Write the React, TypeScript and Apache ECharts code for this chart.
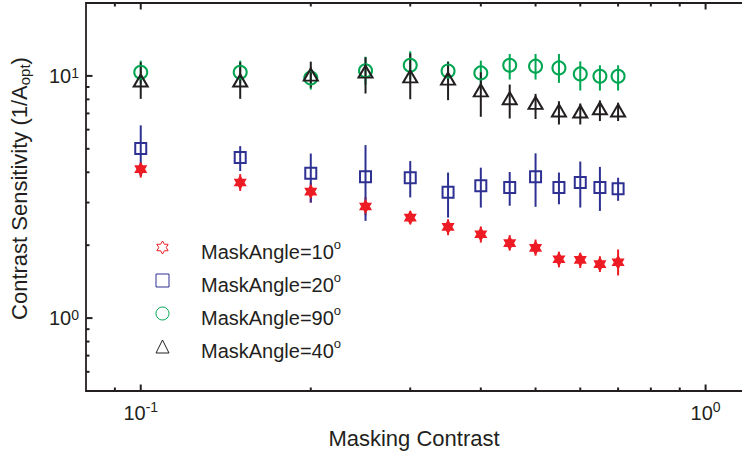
import React, { useEffect, useRef } from 'react';
import * as echarts from 'echarts';

// ---------- data ----------
const maskingContrast = [0.1, 0.15, 0.2, 0.25, 0.3, 0.35, 0.4, 0.45, 0.5, 0.55, 0.6, 0.65, 0.7];

const angle10 = [4.12, 3.63, 3.33, 2.89, 2.6, 2.38, 2.22, 2.04, 1.95, 1.75, 1.74, 1.67, 1.7];
const angle10Low = [3.8, 3.35, 3.0, 2.66, 2.44, 2.2, 2.05, 1.9, 1.81, 1.62, 1.61, 1.55, 1.5];
const angle10High = [4.4, 3.93, 3.63, 3.16, 2.77, 2.56, 2.39, 2.2, 2.11, 1.88, 1.86, 1.8, 1.92];

const angle20 = [5.01, 4.6, 3.96, 3.83, 3.8, 3.31, 3.52, 3.46, 3.83, 3.46, 3.63, 3.46, 3.42];
const angle20Low = [3.86, 4.05, 3.0, 2.52, 3.15, 2.6, 2.86, 2.91, 2.88, 2.95, 2.86, 2.77, 3.05];
const angle20High = [6.25, 5.13, 4.78, 5.18, 4.45, 3.99, 4.18, 4.01, 4.79, 3.99, 4.43, 4.21, 3.8];

const angle90 = [10.35, 10.35, 9.81, 10.5, 11.06, 10.48, 10.29, 11.06, 10.97, 10.79, 10.19, 9.96, 9.96];
const angle90Low = [9.3, 9.3, 8.78, 9.2, 9.68, 9.57, 9.12, 9.66, 9.66, 9.36, 8.7, 8.7, 8.7];
const angle90High = [11.56, 11.56, 10.82, 12.0, 12.63, 11.48, 11.56, 12.32, 12.32, 12.32, 11.48, 11.06, 11.06];

const angle40 = [9.57, 9.57, 10.12, 10.42, 9.96, 9.75, 8.72, 8.09, 7.74, 7.2, 7.13, 7.35, 7.2];
const angle40Low = [8.04, 8.04, 8.95, 8.46, 8.01, 7.94, 6.78, 6.67, 6.64, 6.3, 6.3, 6.51, 6.51];
const angle40High = [11.38, 11.38, 11.45, 11.93, 12.39, 11.42, 10.35, 9.21, 8.43, 7.86, 7.69, 7.92, 7.75];

const seriesNames = ['MaskAngle=10', 'MaskAngle=20', 'MaskAngle=90', 'MaskAngle=40'];

const xMajorTicks = [0.1, 1];
const xMinorTicks = [0.09, 0.2, 0.3, 0.4, 0.5, 0.6, 0.7, 0.8, 0.9];
const yMajorTicks = [1, 10];
const yMinorTicks = [0.6, 0.7, 0.8, 0.9, 2, 3, 4, 5, 6, 7, 8, 9];

// ---------- styling ----------
const FONT = '"Liberation Sans", Arial, Helvetica, sans-serif';
const INK = '#231f20';
const RED = '#ed1c24';
const BLUE = '#2e3192';
const GREEN = '#00a651';
const BLACK = '#231f20';
const NONE = 'rgba(0,0,0,0)';
const HEXAGRAM =
  'path://M100,0L128.9,50L186.6,50L157.7,100L186.6,150L128.9,150L100,200L71.1,150L13.4,150L42.3,100L13.4,50L71.1,50Z';

const X_MIN = 0.08;
const X_MAX = 1.16;
const Y_MIN = 0.5;
const Y_MAX = 20;

const supLabel = (v: number) => `{b|10}{sup|${Math.round(Math.log10(v))}}`;

function xAxisDef(position: 'bottom' | 'top', withLabels: boolean) {
  return {
    type: 'log',
    logBase: 10,
    min: X_MIN,
    max: X_MAX,
    position,
    gridIndex: 0,
    splitLine: { show: false },
    axisLine: { show: true, onZero: false, lineStyle: { color: INK, width: 1.8 } },
    axisTick: { show: false },
    axisLabel: withLabels
      ? {
          show: true,
          customValues: xMajorTicks,
          formatter: supLabel,
          margin: 9,
          color: INK,
          fontFamily: FONT,
          rich: {
            b: { fontSize: 20, lineHeight: 20, padding: [5, 0, 0, 0], color: INK, fontFamily: FONT },
            sup: { fontSize: 14, lineHeight: 14, verticalAlign: 'top', color: INK, fontFamily: FONT },
          },
        }
      : { show: false },
    ...(withLabels
      ? {
          name: 'Masking Contrast',
          nameLocation: 'middle',
          nameGap: 35,
          nameTextStyle: { fontSize: 22, color: INK, fontFamily: FONT },
        }
      : {}),
  };
}

const yAxisMain = {
  type: 'log',
  logBase: 10,
  min: Y_MIN,
  max: Y_MAX,
  position: 'left',
  gridIndex: 0,
  splitLine: { show: false },
  axisLine: { show: true, onZero: false, lineStyle: { color: INK, width: 1.8 } },
  axisTick: { show: false },
  axisLabel: {
    show: true,
    customValues: yMajorTicks,
    formatter: supLabel,
    margin: 7,
    color: INK,
    fontFamily: FONT,
    rich: {
      b: { fontSize: 20, lineHeight: 20, padding: [7, 0, 7, 0], color: INK, fontFamily: FONT },
      sup: { fontSize: 14, lineHeight: 14, verticalAlign: 'top', color: INK, fontFamily: FONT },
    },
  },
  name: '{n|Contrast Sensitivity (1/A}{sub|opt}{n|)}',
  nameLocation: 'middle',
  nameGap: 54,
  nameTextStyle: {
    color: INK,
    fontFamily: FONT,
    fontSize: 22,
    padding: [0, 0, 0, 17],
    rich: {
      n: { fontSize: 22, lineHeight: 26, color: INK, fontFamily: FONT },
      sub: { fontSize: 15, lineHeight: 10, verticalAlign: 'bottom', color: INK, fontFamily: FONT },
    },
  },
};

// Inward ticks (MATLAB style): position along the axis from the library's scale,
// frame edges from the grid rectangle.
function xTickSeries(values: number[], len: number) {
  return {
    type: 'custom',
    name: 'xticks' + len,
    xAxisIndex: 0,
    yAxisIndex: 0,
    silent: true,
    z: 2,
    data: values.map((v) => [v, 1, 1]),
    encode: { x: 0, y: [1, 2] },
    renderItem: (params: any, api: any) => {
      const cs = params.coordSys;
      const x = api.coord([api.value(0), api.value(1)])[0];
      const bottom = cs.y + cs.height;
      const top = cs.y;
      return {
        type: 'group',
        children: [
          { type: 'line', shape: { x1: x, y1: bottom, x2: x, y2: bottom - len }, style: { stroke: INK, lineWidth: 2 } },
          { type: 'line', shape: { x1: x, y1: top, x2: x, y2: top + len }, style: { stroke: INK, lineWidth: 2 } },
        ],
      };
    },
  };
}

function yTickSeries(values: number[], len: number) {
  return {
    type: 'custom',
    name: 'yticks' + len,
    xAxisIndex: 0,
    yAxisIndex: 0,
    silent: true,
    z: 2,
    data: values.map((v) => [0.1, v, v]),
    encode: { x: 0, y: [1, 2] },
    renderItem: (params: any, api: any) => {
      const cs = params.coordSys;
      const y = api.coord([api.value(0), api.value(1)])[1];
      const left = cs.x;
      return {
        type: 'line',
        shape: { x1: left, y1: y, x2: left + len, y2: y },
        style: { stroke: INK, lineWidth: 2 },
      };
    },
  };
}

function errorBars(name: string, low: number[], high: number[], color: string) {
  return {
    type: 'custom',
    name: name + ' error',
    xAxisIndex: 0,
    yAxisIndex: 0,
    silent: true,
    z: 2,
    data: maskingContrast.map((x, i) => [x, low[i], high[i]]),
    encode: { x: 0, y: [1, 2] },
    renderItem: (_params: any, api: any) => {
      const x = api.value(0);
      const a = api.coord([x, api.value(1)]);
      const b = api.coord([x, api.value(2)]);
      return {
        type: 'line',
        shape: { x1: a[0], y1: a[1], x2: b[0], y2: b[1] },
        style: { stroke: color, lineWidth: 2 },
      };
    },
  };
}

function markers(name: string, values: number[], symbol: string, size: any, color: string, fill: string, bw: number) {
  return {
    type: 'scatter',
    name,
    xAxisIndex: 0,
    yAxisIndex: 0,
    silent: true,
    z: 3,
    symbol,
    symbolSize: size,
    itemStyle: { color: fill, borderColor: color, borderWidth: bw, opacity: 1 },
    data: maskingContrast.map((x, i) => [x, values[i]]),
  };
}

export default function App() {
  const ref = useRef<HTMLDivElement>(null);

  useEffect(() => {
    if (!ref.current) return;
    const chart = echarts.init(ref.current, undefined, { renderer: 'svg' });
    const option: any = {
      animation: false,
      backgroundColor: '#ffffff',
      grid: { left: 85.5, top: 3, right: 0, bottom: 66, containLabel: false },
      xAxis: [xAxisDef('bottom', true), xAxisDef('top', false)],
      yAxis: [yAxisMain],
      legend: {
        orient: 'vertical',
        left: 155.5,
        top: 232.5,
        padding: 0,
        itemWidth: 13,
        itemHeight: 13,
        itemGap: 3,
        selectedMode: false,
        symbolKeepAspect: true,
        formatter: (name: string) => `{sp| }{b|${name}}{sup|o}`,
        textStyle: {
          color: INK,
          fontFamily: FONT,
          fontSize: 20,
          rich: {
            sp: { width: 27, fontSize: 20, fontFamily: FONT },
            b: { fontSize: 20, lineHeight: 11, padding: [9, 0, 1, 0], color: INK, fontFamily: FONT },
            sup: { fontSize: 13, lineHeight: 13, verticalAlign: 'top', color: INK, fontFamily: FONT },
          },
        },
        data: [
          { name: seriesNames[0], icon: HEXAGRAM, itemStyle: { color: NONE, borderColor: RED, borderWidth: 1 } },
          { name: seriesNames[1], icon: 'rect', itemStyle: { color: NONE, borderColor: BLUE, borderWidth: 1 } },
          { name: seriesNames[2], icon: 'circle', itemStyle: { color: NONE, borderColor: GREEN, borderWidth: 1 } },
          { name: seriesNames[3], icon: 'triangle', itemStyle: { color: NONE, borderColor: BLACK, borderWidth: 1 } },
        ],
      },
      series: [
        errorBars(seriesNames[0], angle10Low, angle10High, RED),
        markers(seriesNames[0], angle10, HEXAGRAM, [11, 12.7], RED, RED, 1.2),
        errorBars(seriesNames[1], angle20Low, angle20High, BLUE),
        markers(seriesNames[1], angle20, 'rect', 11, BLUE, NONE, 2),
        errorBars(seriesNames[2], angle90Low, angle90High, GREEN),
        markers(seriesNames[2], angle90, 'circle', 13, GREEN, NONE, 2),
        errorBars(seriesNames[3], angle40Low, angle40High, BLACK),
        markers(seriesNames[3], angle40, 'triangle', [14, 12], BLACK, NONE, 2),
        xTickSeries(xMajorTicks, 6.5),
        xTickSeries(xMinorTicks, 3.5),
        yTickSeries(yMajorTicks, 6.5),
        yTickSeries(yMinorTicks, 3.5),
      ],
    };
    chart.setOption(option);
    return () => chart.dispose();
  }, []);

  return (
    <div
      ref={ref}
      style={{ position: 'fixed', left: 0, top: 0, width: 742, height: 457, background: '#fff' }}
    />
  );
}
